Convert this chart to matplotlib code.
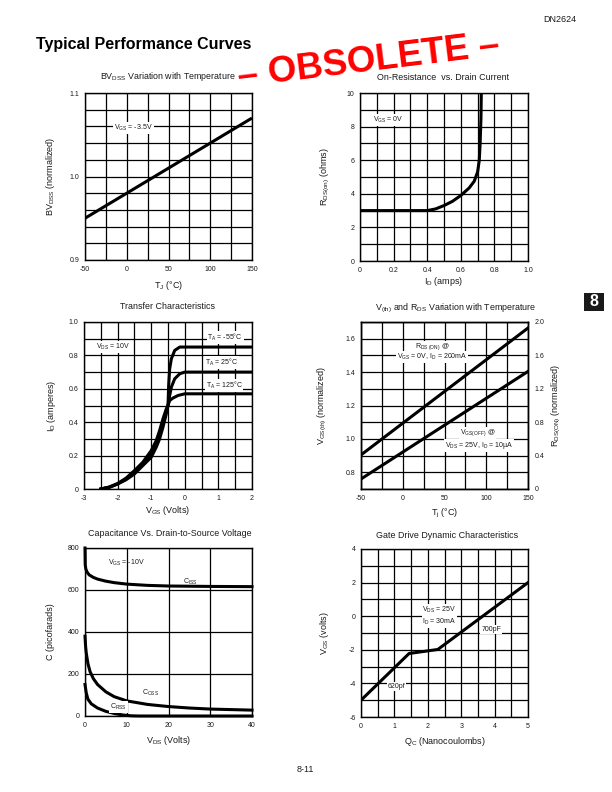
import matplotlib
matplotlib.use('Agg')
import matplotlib.pyplot as plt
from matplotlib.ticker import FixedLocator, MultipleLocator, FixedFormatter
from matplotlib.patches import Rectangle

plt.rcParams['font.family'] = ['Liberation Sans', 'DejaVu Sans']
plt.rcParams['mathtext.fontset'] = 'custom'
plt.rcParams['mathtext.rm'] = 'Liberation Sans'
plt.rcParams['mathtext.it'] = 'Liberation Sans:italic'
plt.rcParams['mathtext.bf'] = 'Liberation Sans:bold'
plt.rcParams['mathtext.default'] = 'regular'

# ---------------- data ----------------
# 1. BVDSS vs temperature
bv_temp = [-50, 150]
bv_norm = [0.95, 1.07]
bv_xticks = [-50, 0, 50, 100, 150]
bv_xlabels = ['-50', '0', '50', '100', '150']
bv_yticks = [0.9, 1.0, 1.1]
bv_ylabels = ['0.9', '1.0', '1.1']

# 2. On-resistance vs drain current
ron_id = [0, 0.1, 0.2, 0.3, 0.4, 0.45, 0.5, 0.55, 0.6, 0.65, 0.68, 0.70, 0.71, 0.715, 0.72, 0.722]
ron_r = [3.0, 3.0, 3.0, 3.0, 3.0, 3.1, 3.3, 3.55, 3.9, 4.35, 4.75, 5.3, 6.0, 7.0, 8.5, 10.0]
ron_xticks = [0, 0.2, 0.4, 0.6, 0.8, 1.0]
ron_xlabels = ['0', '0.2', '0.4', '0.6', '0.8', '1.0']
ron_yticks = [0, 2, 4, 6, 8, 10]
ron_ylabels = ['0', '2', '4', '6', '8', '10']

# 3. Transfer characteristics
tr_v_m55 = [-2.5, -2.25, -2.0, -1.75, -1.5, -1.25, -1.0, -0.85, -0.75, -0.65, -0.55, -0.5, -0.48, -0.45, -0.4, -0.3, -0.15, 0.0, 2.0]
tr_i_m55 = [0.0, 0.01, 0.03, 0.055, 0.09, 0.14, 0.19, 0.25, 0.30, 0.37, 0.45, 0.50, 0.62, 0.72, 0.78, 0.83, 0.85, 0.85, 0.85]
tr_v_25 = [-2.5, -2.25, -2.0, -1.75, -1.5, -1.25, -1.0, -0.85, -0.75, -0.65, -0.55, -0.5, -0.45, -0.4, -0.3, -0.15, 0.0, 2.0]
tr_i_25 = [0.0, 0.01, 0.03, 0.06, 0.10, 0.15, 0.21, 0.27, 0.33, 0.40, 0.47, 0.50, 0.56, 0.61, 0.66, 0.69, 0.70, 0.70]
tr_v_125 = [-2.5, -2.25, -2.0, -1.75, -1.5, -1.25, -1.0, -0.85, -0.75, -0.65, -0.55, -0.5, -0.45, -0.35, -0.2, 0.0, 2.0]
tr_i_125 = [0.0, 0.012, 0.033, 0.065, 0.11, 0.16, 0.23, 0.29, 0.35, 0.42, 0.48, 0.50, 0.53, 0.545, 0.56, 0.57, 0.57]
tr_xticks = [-3, -2, -1, 0, 1, 2]
tr_xlabels = ['-3', '-2', '-1', '0', '1', '2']
tr_yticks = [0, 0.2, 0.4, 0.6, 0.8, 1.0]
tr_ylabels = ['0', '0.2', '0.4', '0.6', '0.8', '1.0']

# 4. Vth and RDS vs temperature
vt_temp = [-50, 150]
vt_rds = [0.904, 1.664]
vt_vgsoff = [0.76, 1.404]
vt_xticks = [-50, 0, 50, 100, 150]
vt_xlabels = ['-50', '0', '50', '100', '150']
vt_yticks = [0.8, 1.0, 1.2, 1.4, 1.6]
vt_ylabels = ['0.8', '1.0', '1.2', '1.4', '1.6']
vt_ryticks = [0, 0.4, 0.8, 1.2, 1.6, 2.0]
vt_rylabels = ['0', '0.4', '0.8', '1.2', '1.6', '2.0']

# 5. Capacitance vs VDS
cap_v_iss = [0, 0.05, 0.2, 0.5, 1, 2, 3, 5, 7, 10, 15, 20, 30, 40]
cap_iss = [800, 720, 700, 685, 672, 660, 652, 642, 635, 628, 622, 619, 617, 616]
cap_v_oss = [0, 0.15, 0.3, 0.7, 1.2, 2, 3, 5, 7, 10, 15, 20, 25, 30, 40]
cap_oss = [380, 330, 300, 250, 212, 178, 150, 115, 92, 72, 55, 45, 38, 33, 28]
cap_v_rss = [0, 0.3, 0.7, 1.5, 3, 5, 7, 9, 11, 13, 40]
cap_rss = [150, 110, 80, 58, 38, 22, 12, 5, 1, 0, 0]
cap_xticks = [0, 10, 20, 30, 40]
cap_xlabels = ['0', '10', '20', '30', '40']
cap_yticks = [0, 200, 400, 600, 800]
cap_ylabels = ['0', '200', '400', '600', '800']

# 6. Gate drive
gd_q = [0, 1.44, 2.3, 5.0]
gd_v = [-5.0, -2.22, -1.98, 2.0]
gd_xticks = [0, 1, 2, 3, 4, 5]
gd_xlabels = ['0', '1', '2', '3', '4', '5']
gd_yticks = [-6, -4, -2, 0, 2, 4]
gd_ylabels = ['-6', '-4', '-2', '0', '2', '4']

# ---------------- figure ----------------
W, H = 612, 792
fig = plt.figure(figsize=(W / 100, H / 100), dpi=100)
fig.patch.set_facecolor('white')

TXT = '#1a1a1a'
CURVE_LW = 2.2
BOX = dict(facecolor='white', edgecolor='none', pad=0.6)
TITLE_FS = 6.4


def make_ax(l, t, r, b):
    return fig.add_axes([l / W, 1 - b / H, (r - l) / W, (b - t) / H])


def style(ax, xlim, ylim, xt, xl, yt, yl, xg, yg):
    ax.set_xlim(*xlim)
    ax.set_ylim(*ylim)
    ax.xaxis.set_major_locator(FixedLocator(xt))
    ax.xaxis.set_major_formatter(FixedFormatter(xl))
    ax.yaxis.set_major_locator(FixedLocator(yt))
    ax.yaxis.set_major_formatter(FixedFormatter(yl))
    ax.xaxis.set_minor_locator(MultipleLocator(xg))
    ax.yaxis.set_minor_locator(MultipleLocator(yg))
    ax.grid(which='both', color='black', lw=0.9)
    ax.set_axisbelow(True)
    ax.tick_params(which='both', length=0, labelsize=5, colors=TXT, pad=4)
    for s in ax.spines.values():
        s.set_linewidth(1.0)
        s.set_color('black')


def labels(ax, title, tx, ty, xlabel, xly, ylabel, ylx):
    ax.text(tx, ty, title, transform=ax.transAxes, ha='center', va='center', fontsize=TITLE_FS, color=TXT)
    ax.text(0.5, xly, xlabel, transform=ax.transAxes, ha='center', va='center', fontsize=6.5, color=TXT)
    ax.text(ylx, 0.5, ylabel, transform=ax.transAxes, ha='center', va='center', fontsize=6.5,
            color=TXT, rotation=90)


# --- 1 ---
ax1 = make_ax(85, 93, 252, 260)
style(ax1, (-50, 150), (0.9, 1.1), bv_xticks, bv_xlabels, bv_yticks, bv_ylabels, 25, 0.02)
ax1.plot(bv_temp, bv_norm, color='black', lw=CURVE_LW, solid_capstyle='butt')
ax1.text(8, 1.058, r'V$_{GS}$ = -3.5V', fontsize=5, ha='center', va='center', color=TXT, bbox=BOX)
labels(ax1, r'BV$_{DSS}$ Variation with Temperature', 0.497, 1.096,
       r'T$_J$ (°C)', -0.154, r'BV$_{DSS}$ (normalized)', -0.205)

# --- 2 ---
ax2 = make_ax(360, 93, 528, 261)
style(ax2, (0, 1.0), (0, 10), ron_xticks, ron_xlabels, ron_yticks, ron_ylabels, 0.1, 1)
ax2.plot(ron_id, ron_r, color='black', lw=CURVE_LW)
ax2.text(0.167, 8.4, r'V$_{GS}$ = 0V', fontsize=5, ha='center', va='center', color=TXT, bbox=BOX)
labels(ax2, 'On-Resistance  vs. Drain Current', 0.494, 1.093,
       r'I$_D$ (amps)', -0.123, r'R$_{DS(on)}$ (ohms)', -0.208)

# --- 3 ---
ax3 = make_ax(84, 322, 252, 489)
style(ax3, (-3, 2), (0, 1.0), tr_xticks, tr_xlabels, tr_yticks, tr_ylabels, 0.5, 0.1)
ax3.plot(tr_v_m55, tr_i_m55, color='black', lw=CURVE_LW)
ax3.plot(tr_v_25, tr_i_25, color='black', lw=CURVE_LW)
ax3.plot(tr_v_125, tr_i_125, color='black', lw=CURVE_LW)
ax3.text(-2.14, 0.85, r'V$_{DS}$ = 10V', fontsize=5, ha='center', va='center', color=TXT, bbox=BOX)
ax3.text(1.2, 0.906, r'T$_A$ = -55°C', fontsize=5, ha='center', va='center', color=TXT, bbox=BOX)
ax3.text(1.1, 0.76, r'T$_A$ = 25°C', fontsize=5, ha='center', va='center', color=TXT, bbox=BOX)
ax3.text(1.17, 0.62, r'T$_A$ = 125°C', fontsize=5, ha='center', va='center', color=TXT, bbox=BOX)
labels(ax3, 'Transfer Characteristics', 0.497, 1.092,
       r'V$_{GS}$ (Volts)', -0.126, r'I$_D$ (amperes)', -0.192)

# --- 4 ---
ax4 = make_ax(361, 322, 528, 489)
style(ax4, (-50, 150), (0.7, 1.7), vt_xticks, vt_xlabels, vt_yticks, vt_ylabels, 25, 0.1)
ax4.plot(vt_temp, vt_rds, color='black', lw=CURVE_LW)
ax4.plot(vt_temp, vt_vgsoff, color='black', lw=CURVE_LW)
ax4.text(35, 1.55, r'R$_{DS\ (ON)}$ @', fontsize=5, ha='center', va='center', color=TXT, bbox=BOX)
ax4.text(35, 1.49, r'V$_{GS}$ = 0V, I$_D$ = 200mA', fontsize=5, ha='center', va='center', color=TXT, bbox=BOX)
ax4.text(90, 1.035, r'V$_{GS(OFF)}$ @', fontsize=5, ha='center', va='center', color=TXT, bbox=BOX)
ax4.text(91, 0.96, r'V$_{DS}$ = 25V, I$_D$ = 10µA', fontsize=5, ha='center', va='center', color=TXT, bbox=BOX)
ax4r = ax4.twinx()
ax4r.set_ylim(0, 2.0)
ax4r.yaxis.set_major_locator(FixedLocator(vt_ryticks))
ax4r.yaxis.set_major_formatter(FixedFormatter(vt_rylabels))
ax4r.tick_params(length=0, labelsize=5, colors=TXT, pad=5)
for s in ax4r.spines.values():
    s.set_linewidth(1.0)
labels(ax4, r'V$_{(th)}$ and R$_{DS}$ Variation with Temperature', 0.569, 1.082,
       r'T$_j$ (°C)', -0.144, r'V$_{GS(th)}$ (normalized)', -0.228)
ax4.text(1.172, 0.5, r'R$_{DS(ON)}$ (normalized)', transform=ax4.transAxes, ha='center', va='center',
         fontsize=6.5, color=TXT, rotation=90)

# --- 5 ---
ax5 = make_ax(85, 548, 252, 716)
style(ax5, (0, 40), (0, 800), cap_xticks, cap_xlabels, cap_yticks, cap_ylabels, 10, 200)
ax5.plot(cap_v_iss, cap_iss, color='black', lw=CURVE_LW, clip_on=False)
ax5.plot(cap_v_oss, cap_oss, color='black', lw=CURVE_LW, clip_on=False)
ax5.plot(cap_v_rss, cap_rss, color='black', lw=CURVE_LW, clip_on=False)
ax5.text(10, 727, r'V$_{GS}$ = -10V', fontsize=5, ha='center', va='center', color=TXT)
ax5.text(25.3, 640, r'C$_{ISS}$', fontsize=5, ha='center', va='center', color=TXT)
ax5.text(15.7, 108, r'C$_{OSS}$', fontsize=5, ha='center', va='center', color=TXT)
ax5.text(8.0, 42, r'C$_{RSS}$', fontsize=5, ha='center', va='center', color=TXT, bbox=BOX)
labels(ax5, 'Capacitance Vs. Drain-to-Source Voltage', 0.509, 1.089,
       r'V$_{DS}$ (Volts)', -0.143, 'C (picofarads)', -0.205)

# --- 6 ---
ax6 = make_ax(361, 549, 528, 717)
style(ax6, (0, 5), (-6, 4), gd_xticks, gd_xlabels, gd_yticks, gd_ylabels, 0.5, 1)
ax6.plot(gd_q, gd_v, color='black', lw=CURVE_LW)
ax6.text(2.35, 0.37, r'V$_{DS}$ = 25V', fontsize=5, ha='center', va='center', color=TXT, bbox=BOX)
ax6.text(2.35, -0.33, r'I$_D$ = 30mA', fontsize=5, ha='center', va='center', color=TXT, bbox=BOX)
ax6.text(3.9, -0.78, '700pF', fontsize=5, ha='center', va='center', color=TXT, bbox=BOX)
ax6.text(1.07, -4.2, '620pf', fontsize=5, ha='center', va='center', color=TXT, bbox=BOX)
labels(ax6, 'Gate Drive Dynamic Characteristics', 0.515, 1.083,
       r'Q$_C$ (Nanocoulombs)', -0.143, r'V$_{GS}$ (volts)', -0.216)

# ---------------- page decorations ----------------
fig.text(560 / W, 1 - 20 / H, 'DN2624', fontsize=6.5, ha='center', va='center', color=TXT)
fig.text(36 / W, 1 - 44 / H, 'Typical Performance Curves', fontsize=11.5, fontweight='bold',
         ha='left', va='center', color='black')
fig.text(369 / W, 1 - 62 / H, '– OBSOLETE –', fontsize=26.5, fontweight='bold', color='#ff0000',
         ha='center', va='center', rotation=7, rotation_mode='anchor')
fig.patches.append(Rectangle((584 / W, 1 - 311 / H), 20 / W, 18 / H, transform=fig.transFigure,
                             facecolor='#1a1a1a', edgecolor='none'))
fig.text(594 / W, 1 - 302 / H, '8', fontsize=11.5, fontweight='bold', color='white',
         ha='center', va='center')
fig.text(305 / W, 1 - 770 / H, '8-11', fontsize=6.5, ha='center', va='center', color=TXT)

fig.savefig('out.png', dpi=100, facecolor='white')
